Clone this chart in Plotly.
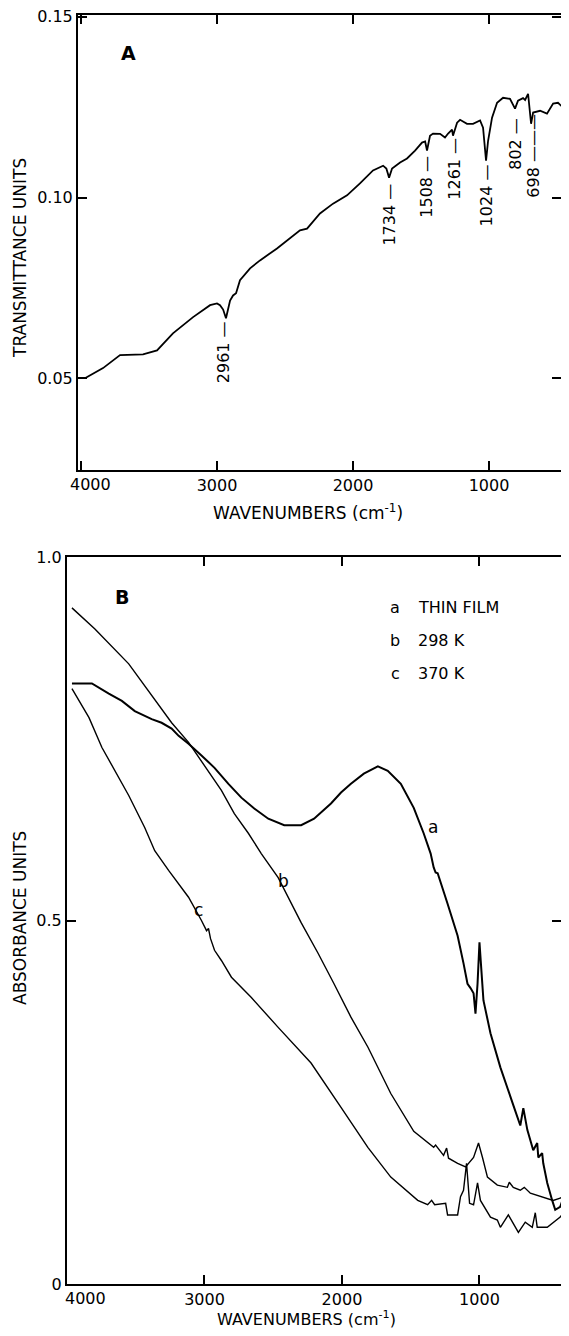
import plotly.graph_objects as go

# the page body adds an 8px margin on every side, so the figure is sized to fit inside it
OFF = 8
W, H = 569 - 2 * OFF, 1336 - 2 * OFF
FONT = "DejaVu Sans"

# ---- panel A: transmittance ----
a_wn = [3971, 3838, 3713, 3544, 3441, 3324, 3176, 3051, 3000, 2978,
        2955, 2934, 2904, 2882, 2860, 2831, 2757, 2684, 2559, 2441,
        2390, 2338, 2265, 2243, 2147, 2044, 1949, 1853, 1779, 1755,
        1735, 1713, 1654, 1603, 1544, 1493, 1470, 1456, 1434, 1412,
        1360, 1324, 1301, 1272, 1265, 1235, 1213, 1162, 1118, 1066,
        1044, 1022, 1007, 978, 941, 897, 846, 809, 787, 750,
        735, 721, 713, 691, 676, 625, 574, 529, 493, 456,
        419]
a_trans = [0.0500, 0.0528, 0.0564, 0.0566, 0.0577, 0.0624, 0.0669, 0.0702, 0.0707, 0.0702,
           0.0690, 0.0666, 0.0715, 0.0729, 0.0735, 0.0771, 0.0804, 0.0826, 0.0859, 0.0895,
           0.0909, 0.0914, 0.0945, 0.0956, 0.0983, 0.1006, 0.1039, 0.1075, 0.1088, 0.1080,
           0.1055, 0.1080, 0.1097, 0.1108, 0.1130, 0.1152, 0.1155, 0.1130, 0.1171, 0.1177,
           0.1176, 0.1166, 0.1177, 0.1188, 0.1171, 0.1207, 0.1215, 0.1204, 0.1204, 0.1213,
           0.1193, 0.1102, 0.1157, 0.1221, 0.1262, 0.1276, 0.1273, 0.1246, 0.1268, 0.1275,
           0.1270, 0.1282, 0.1287, 0.1204, 0.1235, 0.1240, 0.1232, 0.1260, 0.1262, 0.1249,
           0.1240]

peak_labels = ["2961", "1734", "1508", "1261", "1024", "802", "698"]
peak_x = [2956, 1735, 1456, 1257, 1022, 801, 676]
peak_y = [0.0572, 0.0953, 0.1030, 0.1080, 0.1006, 0.1149, 0.1116]

# ---- panel B: absorbance ----
film_wn = [3964, 3819, 3696, 3601, 3507, 3384, 3312, 3239, 3188, 3116,
           3022, 2927, 2826, 2732, 2638, 2536, 2420, 2297, 2203, 2080,
           2007, 1935, 1841, 1739, 1667, 1572, 1478, 1406, 1355, 1333,
           1319, 1304, 1232, 1159, 1116, 1087, 1065, 1043, 1029, 1014,
           1000, 993, 971, 920, 848, 754, 703, 681, 652, 609,
           580, 572, 544, 536, 507, 471, 449, 413, 391]
film_abs = [0.826, 0.826, 0.812, 0.802, 0.788, 0.777, 0.772, 0.764, 0.754, 0.743,
            0.727, 0.710, 0.688, 0.669, 0.654, 0.640, 0.631, 0.631, 0.640, 0.661,
            0.676, 0.688, 0.702, 0.712, 0.706, 0.688, 0.655, 0.620, 0.592, 0.573,
            0.566, 0.565, 0.523, 0.479, 0.441, 0.413, 0.407, 0.400, 0.372, 0.413,
            0.470, 0.452, 0.390, 0.345, 0.298, 0.246, 0.218, 0.242, 0.212, 0.184,
            0.194, 0.174, 0.180, 0.166, 0.139, 0.115, 0.102, 0.106, 0.118]

k298_wn = [3964, 3797, 3551, 3406, 3239, 3116, 2971, 2935, 2877, 2783,
           2681, 2587, 2464, 2297, 2174, 2058, 1935, 1812, 1645, 1478,
           1333, 1319, 1261, 1239, 1225, 1159, 1101, 1043, 1007, 978,
           942, 870, 797, 783, 754, 703, 674, 630, 507, 464,
           413, 391]
k298_abs = [0.930, 0.901, 0.853, 0.816, 0.772, 0.745, 0.706, 0.695, 0.679, 0.647,
            0.620, 0.592, 0.559, 0.497, 0.455, 0.413, 0.367, 0.326, 0.262, 0.210,
            0.188, 0.191, 0.177, 0.187, 0.173, 0.166, 0.161, 0.174, 0.194, 0.174,
            0.147, 0.136, 0.133, 0.140, 0.133, 0.129, 0.133, 0.125, 0.118, 0.115,
            0.118, 0.121]

k370_wn = [3964, 3840, 3746, 3551, 3435, 3362, 3261, 3116, 3022, 2985,
           2971, 2956, 2927, 2877, 2804, 2659, 2464, 2225, 2007, 1812,
           1645, 1449, 1377, 1348, 1326, 1246, 1232, 1159, 1138, 1116,
           1094, 1072, 1043, 1014, 993, 920, 870, 848, 790, 754,
           717, 667, 616, 594, 580, 507, 464, 413, 391]
k370_abs = [0.819, 0.779, 0.738, 0.672, 0.628, 0.596, 0.569, 0.532, 0.500, 0.486,
            0.489, 0.475, 0.459, 0.445, 0.422, 0.394, 0.353, 0.304, 0.243, 0.188,
            0.147, 0.115, 0.109, 0.115, 0.109, 0.111, 0.095, 0.095, 0.120, 0.129,
            0.166, 0.111, 0.109, 0.139, 0.115, 0.092, 0.088, 0.078, 0.095, 0.084,
            0.071, 0.085, 0.078, 0.098, 0.078, 0.078, 0.084, 0.092, 0.098]

curve_tags = ["a", "b", "c"]
curve_names = ["THIN FILM", "298 K", "370 K"]
tag_x = [1341, 2427, 3043]
tag_y = [0.628, 0.555, 0.514]

x_ticks = [4000, 3000, 2000, 1000]
x_tick_text = ["", "3000", "2000", "1000"]  # 4000 is set a little right of its tick, as printed


def px(x):
    return (x - OFF) / W


def py(y):
    return 1 - (y - OFF) / H


def note(x, y, text, size=16, angle=0, xanchor="center"):
    return dict(x=px(x), y=py(y), xref="paper", yref="paper", text=text,
                textangle=angle, showarrow=False, xanchor=xanchor, yanchor="middle",
                font=dict(size=size))


fig = go.Figure()
fig.add_trace(go.Scatter(x=a_wn, y=a_trans, mode="lines", xaxis="x", yaxis="y",
                         line=dict(color="black", width=1.8)))
fig.add_trace(go.Scatter(x=film_wn, y=film_abs, mode="lines", xaxis="x2", yaxis="y2",
                         line=dict(color="black", width=2.0)))
fig.add_trace(go.Scatter(x=k298_wn, y=k298_abs, mode="lines", xaxis="x2", yaxis="y2",
                         line=dict(color="black", width=1.4)))
fig.add_trace(go.Scatter(x=k370_wn, y=k370_abs, mode="lines", xaxis="x2", yaxis="y2",
                         line=dict(color="black", width=1.4)))

axis_style = dict(showline=True, linewidth=2, linecolor="black", mirror="ticks",
                  ticks="inside", ticklen=9, tickwidth=1.5, tickcolor="black",
                  showgrid=False, zeroline=False, automargin=False,
                  ticklabeloverflow="allow",
                  tickfont=dict(family=FONT, size=16, color="black"))

annotations = []
for lab, x, y in zip(peak_labels, peak_x, peak_y):
    dash = " \u2014\u2014\u2014" if lab == "698" else " \u2014"
    annotations.append(dict(x=x, y=y, xref="x", yref="y", text=lab + dash,
                            textangle=-90, showarrow=False, xanchor="center",
                            yanchor="middle", font=dict(size=16)))
for t, x, y in zip(curve_tags, tag_x, tag_y):
    annotations.append(dict(x=x, y=y, xref="x2", yref="y2", text=t, showarrow=False,
                            xanchor="center", yanchor="middle", font=dict(size=17)))
for i, (t, n) in enumerate(zip(curve_tags, curve_names)):
    annotations.append(note(395, 607 + 33 * i, t))
    annotations.append(note(416, 607 + 33 * i, n, xanchor="left"))

# first tick label of each panel
annotations.append(dict(x=x_ticks[0], y=py(484), xref="x", yref="paper", text="4000",
                        showarrow=False, xanchor="center", yanchor="middle", xshift=10,
                        font=dict(size=16)))
annotations.append(dict(x=x_ticks[0], y=py(1298), xref="x2", yref="paper", text="4000",
                        showarrow=False, xanchor="center", yanchor="middle", xshift=18,
                        font=dict(size=16)))

annotations += [
    note(128, 53, "<b>A</b>", size=19),
    note(122, 597, "<b>B</b>", size=19),
    note(20, 258, "TRANSMITTANCE UNITS", size=17, angle=-90),
    note(20, 918, "ABSORBANCE UNITS", size=17, angle=-90),
    note(308, 512, "WAVENUMBERS (cm<sup>-1</sup>)", size=17),
    note(306, 1318, "WAVENUMBERS (cm<sup>-1</sup>)", size=16),
]

fig.update_layout(
    width=W, height=H,
    margin=dict(l=0, r=0, t=0, b=0, autoexpand=False),
    paper_bgcolor="white", plot_bgcolor="white",
    font=dict(family=FONT, color="black"),
    showlegend=False,
    xaxis=dict(axis_style, domain=[px(78), 1.0], range=[4022, 471], anchor="y",
               tickvals=x_ticks, ticktext=x_tick_text),
    yaxis=dict(axis_style, domain=[py(470), py(15)], range=[0.0246, 0.1505], anchor="x",
               tickvals=[0.05, 0.10, 0.15], ticktext=["0.05", "0.10", "0.15"]),
    xaxis2=dict(axis_style, domain=[px(67), 1.0], range=[4000, 407], anchor="y2",
                tickvals=x_ticks, ticktext=x_tick_text),
    yaxis2=dict(axis_style, domain=[py(1284), py(557)], range=[0, 1.0], anchor="x2",
                tickvals=[0, 0.5, 1.0], ticktext=["0", "0.5", "1.0"]),
    annotations=annotations,
)

fig.write_html("out.html")
